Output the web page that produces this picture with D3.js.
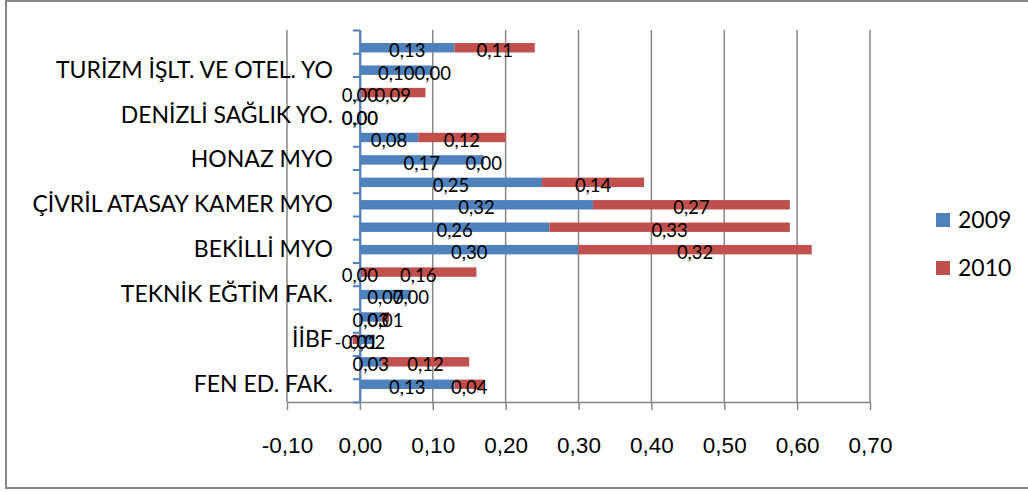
<!DOCTYPE html>
<html>
<head>
<meta charset="utf-8">
<script src="https://cdn.jsdelivr.net/npm/d3@7"></script>
<style>
  body { margin: 0; background: #fff; }
  svg { display: block; font-family: Lato, "Open Sans", sans-serif; }
</style>
</head>
<body>
<div id="chart"></div>
<script>
// categories from bottom to top; every second label is hidden in the original chart
var categories = ["FEN ED. FAK.", "", "İİBF", "", "TEKNİK EĞTİM FAK.", "", "BEKİLLİ MYO", "",
  "ÇİVRİL ATASAY KAMER MYO", "", "HONAZ MYO", "", "DENİZLİ SAĞLIK YO.", "", "TURİZM İŞLT. VE OTEL. YO", ""];
var values2009 = [0.13, 0.03, 0.02, 0.03, 0.07, 0.00, 0.30, 0.26, 0.32, 0.25, 0.17, 0.08, 0.00, 0.00, 0.10, 0.13];
var values2010 = [0.04, 0.12, -0.01, 0.01, 0.00, 0.16, 0.32, 0.33, 0.27, 0.14, 0.00, 0.12, 0.00, 0.09, 0.00, 0.11];
var seriesNames = ["2009", "2010"];
var xTicks = [-0.1, 0, 0.1, 0.2, 0.3, 0.4, 0.5, 0.6, 0.7];

var width = 1028, height = 492;
var colors = ["#4f81bd", "#c0504d"];
var gridColor = "#878787";

var svg = d3.select("#chart").append("svg")
  .attr("width", width)
  .attr("height", height);

// outer chart border
svg.append("rect")
  .attr("x", 6).attr("y", 1)
  .attr("width", 1030).attr("height", 487)
  .attr("fill", "none")
  .attr("stroke", gridColor)
  .attr("stroke-width", 2);

var x = d3.scaleLinear().domain([-0.1, 0.7]).range([287, 870]);
var y = d3.scaleBand().domain(d3.range(categories.length)).range([402, 30]).padding(0.58);
// linear scale over the band boundaries, used for the category tick marks
var yEdges = d3.scaleLinear().domain([0, categories.length]).range([402, 30]);

var locale = d3.formatLocale({ decimal: ",", thousands: ".", grouping: [3], currency: ["", ""], minus: "-" });
var fmt = locale.format(".2f");

// vertical gridlines
svg.append("g")
  .selectAll("line")
  .data(xTicks)
  .enter()
  .append("line")
  .attr("x1", d => x(d)).attr("x2", d => x(d))
  .attr("y1", 30).attr("y2", 402)
  .attr("stroke", gridColor)
  .attr("stroke-width", 1.5);

// x axis
var xAxis = svg.append("g")
  .attr("transform", "translate(0,402)")
  .call(d3.axisBottom(x).tickValues(xTicks).tickSize(8).tickSizeOuter(0).tickFormat(fmt));
xAxis.select(".domain").attr("stroke", gridColor).attr("stroke-width", 1.5);
xAxis.selectAll(".tick line").attr("stroke", gridColor).attr("stroke-width", 1.5);
xAxis.selectAll(".tick text")
  .attr("y", 51)
  .attr("dy", 0)
  .attr("fill", "#000")
  .style("font-size", "22.5px");

// stack the two series, positives to the right and negatives to the left
var stacked = [];
categories.forEach(function(c, i) {
  var pos = 0, neg = 0;
  [values2009[i], values2010[i]].forEach(function(v, s) {
    var seg = { index: i, series: s, value: v };
    if (v >= 0) { seg.x0 = pos; seg.x1 = pos + v; pos += v; }
    else { seg.x0 = neg + v; seg.x1 = neg; neg += v; }
    stacked.push(seg);
  });
});

svg.append("g")
  .selectAll("rect")
  .data(stacked)
  .enter()
  .append("rect")
  .attr("x", d => x(d.x0))
  .attr("y", d => y(d.index))
  .attr("width", d => x(d.x1) - x(d.x0))
  .attr("height", y.bandwidth())
  .attr("fill", d => colors[d.series]);

// category axis at zero
var yAxis = svg.append("g")
  .attr("transform", "translate(" + x(0) + ",0)")
  .call(d3.axisLeft(yEdges).ticks(categories.length).tickSize(7).tickSizeOuter(0).tickFormat(""));
yAxis.select(".domain").attr("stroke", colors[0]).attr("stroke-width", 2);
yAxis.selectAll(".tick line").attr("stroke", colors[0]).attr("stroke-width", 2);

// category labels
svg.append("g")
  .selectAll("text")
  .data(categories.map((c, i) => ({ name: c, index: i })).filter(d => d.name !== ""))
  .enter()
  .append("text")
  .attr("x", x(0) - 27)
  .attr("y", d => y(d.index) + y.bandwidth() / 2)
  .attr("dy", "0.33em")
  .attr("text-anchor", "end")
  .style("font-size", "23px")
  .text(d => d.name);

// data labels, centred on each segment
svg.append("g")
  .selectAll("text")
  .data(stacked)
  .enter()
  .append("text")
  .attr("x", d => x((d.x0 + d.x1) / 2))
  .attr("y", d => y(d.index) + y.bandwidth() / 2 + 3)
  .attr("dy", "0.36em")
  .attr("text-anchor", "middle")
  .style("font-size", "18.5px")
  .text(d => fmt(d.value));

// legend
var legend = svg.append("g")
  .selectAll("g")
  .data(seriesNames)
  .enter()
  .append("g")
  .attr("transform", (d, i) => "translate(936," + (213 + i * 48) + ")");
legend.append("rect")
  .attr("width", 14).attr("height", 14)
  .attr("fill", (d, i) => colors[i]);
legend.append("text")
  .attr("x", 22)
  .attr("y", 7)
  .attr("dy", "0.36em")
  .style("font-size", "23px")
  .text(d => d);
</script>
</body>
</html>
